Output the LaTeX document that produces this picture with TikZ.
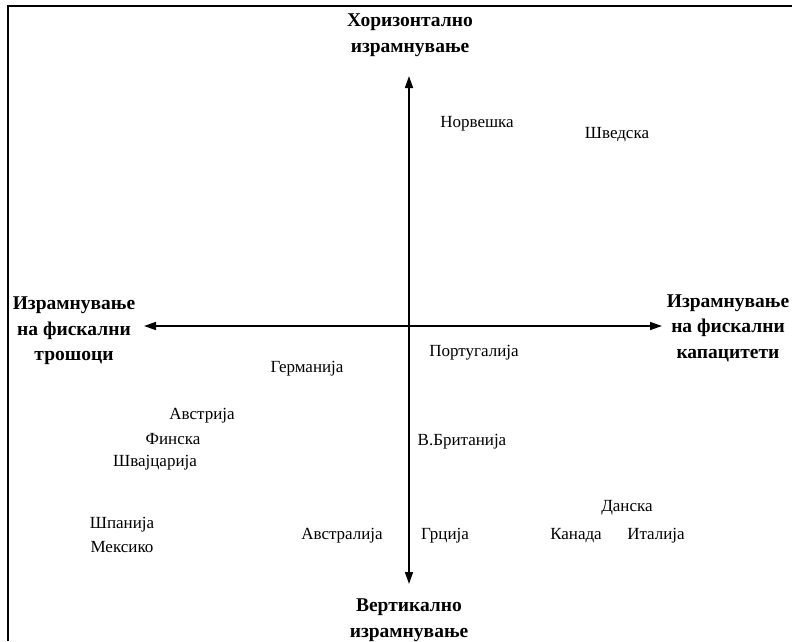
\documentclass[tikz,border=0pt]{standalone}
\usepackage{fontspec}
\setmainfont{Liberation Serif}
\usetikzlibrary{arrows.meta}

\begin{document}
\begin{tikzpicture}[x=1pt, y=-1pt,
    axislabel/.style={font=\fontsize{19.5}{25.5}\selectfont\bfseries, align=center, inner sep=0pt},
    country/.style={font=\fontsize{17}{20}\selectfont, inner sep=0pt},
    axis/.style={line width=1.6pt, -{Triangle[length=12pt, width=8pt]}}]
  \useasboundingbox (0,0) rectangle (792,641);
  % frame
  \draw[line width=2pt] (8,641) -- (8,6) -- (792,6);
  % axes
  \coordinate (o) at (409,326);
  \coordinate (top) at (409,76);
  \coordinate (bottom) at (409,584);
  \coordinate (left) at (144,326);
  \coordinate (right) at (662,326);
  \draw[axis] (o) -- (top);
  \draw[axis] (o) -- (bottom);
  \draw[axis] (o) -- (left);
  \draw[axis] (o) -- (right);
  % axis labels
  \node[axislabel] (horiz) at (410,35) {Хоризонтално\\израмнување};
  \node[axislabel] (vert) at (409,620) {Вертикално\\израмнување};
  \node[axislabel] (costs) at (74,331) {Израмнување\\на фискални\\трошоци};
  \node[axislabel] (capac) at (728,328) {Израмнување\\на фискални\\капацитети};
  % countries
  \node[country] (nor) at (477,124) {Норвешка};
  \node[country] (swe) at (617,135) {Шведска};
  \node[country] (por) at (474,353) {Португалија};
  \node[country] (ger) at (307,369) {Германија};
  \node[country] (aut) at (202,416) {Австрија};
  \node[country] (fin) at (173,439) {Финска};
  \node[country] (sui) at (155,463) {Швајцарија};
  \node[country] (gbr) at (462,442) {В.Британија};
  \node[country] (den) at (627,508) {Данска};
  \node[country] (esp) at (122,525) {Шпанија};
  \node[country] (mex) at (122,547) {Мексико};
  \node[country] (aus) at (342,536) {Австралија};
  \node[country] (gre) at (445,536) {Грција};
  \node[country] (can) at (576,536) {Канада};
  \node[country] (ita) at (656,536) {Италија};
\end{tikzpicture}
\end{document}
